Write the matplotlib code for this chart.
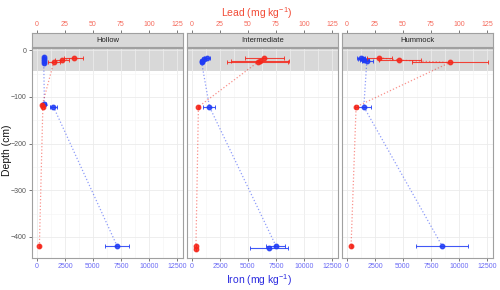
import matplotlib
matplotlib.use("Agg")
import matplotlib.pyplot as plt
import numpy as np

plt.rcParams['font.family'] = ['Liberation Sans', 'DejaVu Sans']
plt.rcParams['mathtext.default'] = 'regular'

sites = ['Hollow', 'Intermediate', 'Hummock']

# lead (mg/kg): depth, mean, error lo, error hi
pb_depth = {
    'Hollow': [-16, -21, -25, -118, -121, -420],
    'Intermediate': [-16, -22, -25, -121, -420, -425],
    'Hummock': [-16, -21, -26, -121, -420],
}
pb_mean = {
    'Hollow': [32.7, 22.5, 15.0, 4.6, 5.2, 2.1],
    'Intermediate': [64.7, 60.5, 59.0, 5.7, 3.5, 3.5],
    'Hummock': [29.0, 46.8, 92.0, 8.1, 3.6],
}
pb_lo = {
    'Hollow': [24.0, 16.0, 10.0, 3.8, 4.4, 1.8],
    'Intermediate': [47.0, 35.0, 31.0, 5.0, 3.1, 3.1],
    'Hummock': [17.7, 28.8, 58.2, 6.8, 3.2],
}
pb_hi = {
    'Hollow': [41.4, 28.5, 20.5, 5.4, 6.0, 2.4],
    'Intermediate': [82.0, 87.0, 86.0, 6.4, 3.9, 3.9],
    'Hummock': [40.2, 66.3, 125.6, 9.4, 4.0],
}

# iron (mg/kg): depth, mean, error lo, error hi
fe_depth = {
    'Hollow': [-15, -19, -23, -27, -116, -121, -420],
    'Intermediate': [-16, -18, -22, -25, -121, -420, -424],
    'Hummock': [-16, -18, -20, -23, -121, -420],
}
fe_mean = {
    'Hollow': [580, 600, 620, 600, 660, 1470, 7170],
    'Intermediate': [1300, 1050, 900, 850, 1560, 7520, 6860],
    'Hummock': [1260, 1400, 1560, 1770, 1500, 8520],
}
fe_lo = {
    'Hollow': [500, 520, 540, 520, 560, 1170, 6110],
    'Intermediate': [1100, 850, 700, 700, 960, 6650, 5220],
    'Hummock': [870, 1000, 1200, 1350, 720, 6200],
}
fe_hi = {
    'Hollow': [660, 680, 700, 680, 760, 1770, 8210],
    'Intermediate': [1600, 1250, 1100, 1000, 2070, 8300, 8570],
    'Hummock': [1650, 1800, 2000, 2310, 2130, 10800],
}

fe_ticks = [0, 2500, 5000, 7500, 10000, 12500]
pb_ticks = [0, 25, 50, 75, 100, 125]
depth_ticks = [0, -100, -200, -300, -400]

RED = '#F5261A'
BLUE = '#1F3BF5'
W, H = 500, 290

fig = plt.figure(figsize=(5, 2.9), dpi=100)
lefts = [32, 187, 342]
pw = 151
ax_top, ax_bot = 48, 258
strip_top = 33

xmin, xmax = -450, 13050

for i, site in enumerate(sites):
    l = lefts[i]
    ax = fig.add_axes([l / W, 1 - ax_bot / H, pw / W, (ax_bot - ax_top) / H])
    ax.set_xlim(xmin, xmax)
    ax.set_ylim(-445, 5)
    ax.axhspan(-45, 5, color='grey', alpha=0.3, lw=0, zorder=0)
    ax.set_xticks(fe_ticks)
    ax.set_xticks([1250, 3750, 6250, 8750, 11250], minor=True)
    ax.set_yticks(depth_ticks)
    ax.set_yticks([-50, -150, -250, -350], minor=True)
    ax.grid(True, which='major', color='#EBEBEB', lw=0.6, zorder=0.5)
    ax.grid(True, which='minor', color='#F3F3F3', lw=0.4, zorder=0.5)
    ax.set_axisbelow(True)
    for s in ax.spines.values():
        s.set_color('#A0A0A0')
        s.set_linewidth(0.8)
    ax.tick_params(which='major', length=2.2, width=0.5, color='#444444',
                   labelsize=5.0, pad=1.5)
    ax.tick_params(which='minor', length=0)
    ax.tick_params(axis='x', labelcolor='#6A6AF5')
    ax.tick_params(axis='y', labelcolor='#555555')
    ax.set_xticklabels([str(t) for t in fe_ticks])
    if i > 0:
        ax.set_yticklabels([])
        ax.tick_params(axis='y', length=0)

    # iron
    fd = np.array(fe_depth[site])
    fm = np.array(fe_mean[site])
    ax.plot(fm, fd, ls=':', color=BLUE, alpha=0.5, lw=0.9, zorder=2)
    ax.errorbar(fm, fd, xerr=[fm - np.array(fe_lo[site]), np.array(fe_hi[site]) - fm],
                fmt='o', color=BLUE, ms=3.2, elinewidth=0.8, capsize=1.3,
                capthick=0.7, alpha=0.85, zorder=3)

    # lead on twin axis
    axp = ax.twiny()
    axp.set_xlim(xmin / 100, xmax / 100)
    axp.set_xticks(pb_ticks)
    axp.set_xticklabels([str(t) for t in pb_ticks])
    for s in axp.spines.values():
        s.set_visible(False)
    axp.spines['top'].set_position(('outward', (ax_top - strip_top) * 0.72))
    axp.tick_params(axis='x', length=2.2, width=0.5, color='#444444',
                    labelsize=5.0, labelcolor='#F56A5C', pad=1.2)
    pd_ = np.array(pb_depth[site])
    pm = np.array(pb_mean[site])
    axp.plot(pm, pd_, ls=':', color=RED, alpha=0.5, lw=0.9, zorder=2)
    axp.errorbar(pm, pd_, xerr=[pm - np.array(pb_lo[site]), np.array(pb_hi[site]) - pm],
                 fmt='o', color=RED, ms=3.2, elinewidth=0.8, capsize=1.3,
                 capthick=0.7, alpha=0.85, zorder=3)

    # facet strip
    sa = fig.add_axes([l / W, 1 - 47 / H, pw / W, (47 - strip_top) / H])
    sa.set_facecolor('#D9D9D9')
    sa.set_xticks([])
    sa.set_yticks([])
    for s in sa.spines.values():
        s.set_color('#A0A0A0')
        s.set_linewidth(0.8)
    sa.text(0.5, 0.5, site, ha='center', va='center', fontsize=5.5,
            color='#222222', transform=sa.transAxes)

fig.text(257 / W, 1 - 13 / H, r'Lead (mg kg$^{-1}$)', ha='center', va='center',
         fontsize=7.5, color='#F24B36')
fig.text(259 / W, 1 - 280 / H, r'Iron (mg kg$^{-1}$)', ha='center', va='center',
         fontsize=7.5, color='#2B2BE0')
fig.text(7 / W, 1 - 150 / H, 'Depth (cm)', ha='center', va='center',
         rotation=90, fontsize=7.5, color='#111111')

fig.savefig('out.png', dpi=100)
